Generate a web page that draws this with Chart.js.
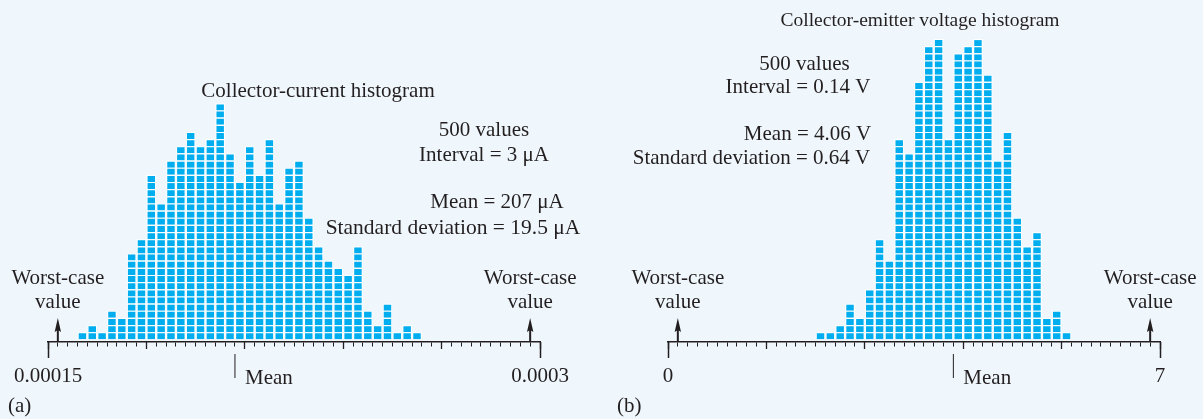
<!DOCTYPE html>
<html><head><meta charset="utf-8">
<script src="https://cdn.jsdelivr.net/npm/chart.js@4.4.1/dist/chart.umd.min.js"></script>
<style>
html,body{margin:0;padding:0;background:#eff7fd;width:1203px;height:419px;overflow:hidden}
#wa{position:absolute;left:0;top:0;width:600px;height:419px}
#wb{position:absolute;left:600px;top:0;width:603px;height:419px}
</style></head><body>
<div id="wa"><canvas id="ca" width="600" height="419"></canvas></div>
<div id="wb"><canvas id="cb" width="603" height="419"></canvas></div>
<script>
// ---------------- data ----------------
// (a) collector current, bin lower edges in microamps
const binsA = [159,162,165,168,171,174,177,180,183,186,189,192,195,198,201,204,207,210,213,216,219,222,225,228,231,234,237,240,243,246,249,252,255,258,261];
const countsA = [1,2,1,4,3,12,14,23,19,25,27,29,27,28,33,26,22,27,23,28,19,24,25,17,13,11,10,9,13,4,2,5,1,2,1];
const intervalA = 3;            // µA
const rangeA = [150, 300];      // µA
const meanA = 207;              // µA
const worstA = [153, 297];      // µA
const tickLabelsA = ['0.00015', '0.0003'];

// (b) collector-emitter voltage, bin lower edges in volts
const binsB = [2.10,2.24,2.38,2.52,2.66,2.80,2.94,3.08,3.22,3.36,3.50,3.64,3.78,3.92,4.06,4.20,4.34,4.48,4.62,4.76,4.90,5.04,5.18,5.32,5.46,5.60];
const countsB = [1,1,2,5,3,7,14,11,28,26,36,41,42,28,40,41,42,37,25,29,17,13,15,3,4,1];
const intervalB = 0.14;         // V
const rangeB = [0, 7];          // V
const meanB = 4.06;             // V
const worstB = [0.14, 6.86];    // V
const tickLabelsB = ['0', '7'];

const textsA = [
  {t:'Collector-current histogram', x:318, y:97, a:'center'},
  {t:'500 values', x:484, y:136, a:'center'},
  {t:'Interval = 3 μA', x:484, y:161, a:'center'},
  {t:'Mean = 207 μA', x:497, y:208, a:'center'},
  {t:'Standard deviation = 19.5 μA', x:453, y:234, a:'center', s:21.5},
  {t:'(a)', x:8, y:412, a:'left'}
];
const textsB = [
  {t:'Collector-emitter voltage histogram', x:320, y:26, a:'center', s:19.5},
  {t:'500 values', x:204.5, y:70, a:'center'},
  {t:'Interval = 0.14 V', x:198, y:93, a:'center'},
  {t:'Mean = 4.06 V', x:207.5, y:140, a:'center'},
  {t:'Standard deviation = 0.64 V', x:151.5, y:164, a:'center'},
  {t:'(b)', x:17, y:412, a:'left'}
];

// ---------------- style ----------------
const INK = '#231f20';
const CYAN = '#00aeef';
const FONT_FAMILY = "'Liberation Serif', 'Times New Roman', serif";
const FONT_SIZE = 21;
const Y_MIN = -0.38, Y_MAX = 44.65;

const annotPlugin = {
  id: 'annot',
  afterDraw(chart, args, o) {
    const ctx = chart.ctx;
    const xs = chart.scales.x, ys = chart.scales.y;
    const axisY = ys.getPixelForValue(Y_MIN);
    ctx.save();
    ctx.fillStyle = INK; ctx.strokeStyle = INK;
    ctx.font = FONT_SIZE + 'px ' + FONT_FAMILY;
    ctx.textBaseline = 'alphabetic';
    // worst-case arrows + labels
    o.worst.forEach(v => {
      const px = xs.getPixelForValue(v * o.k);
      ctx.lineWidth = 2;
      ctx.beginPath(); ctx.moveTo(px, axisY); ctx.lineTo(px, axisY - 14); ctx.stroke();
      ctx.beginPath(); ctx.moveTo(px, axisY - 24); ctx.lineTo(px - 3.2, axisY - 10); ctx.lineTo(px, axisY - 12); ctx.lineTo(px + 3.2, axisY - 10); ctx.closePath(); ctx.fill();
      ctx.textAlign = 'center';
      ctx.fillText('Worst-case', px, 283.5);
      ctx.fillText('value', px, 307.5);
    });
    // mean marker
    const mx = xs.getPixelForValue(o.mean * o.k);
    ctx.lineWidth = 1;
    ctx.beginPath(); ctx.moveTo(mx, axisY + 12); ctx.lineTo(mx, axisY + 36); ctx.stroke();
    ctx.textAlign = 'left';
    ctx.fillText('Mean', mx + 10, 384);
    // free texts
    o.texts.forEach(tx => {
      ctx.font = (tx.s || FONT_SIZE) + 'px ' + FONT_FAMILY;
      ctx.textAlign = tx.a; ctx.fillText(tx.t, tx.x, tx.y);
    });
    ctx.restore();
  }
};

function makeChart(id, bins, counts, interval, range, k, mean, worst, tickLabels, texts, padL, padR) {
  const lo = range[0] * k, hi = range[1] * k;
  const step = Math.round(interval * k);
  const minor = [], major = [];
  for (let v = Math.round(lo); v <= Math.round(hi) + 1e-9; v += step) minor.push(v);
  for (let v = Math.round(lo); v <= Math.round(hi) + 1e-9; v += step * 10) major.push(v);
  const maxC = Math.max(...counts);
  const datasets = [];
  for (let lev = 1; lev <= maxC; lev++) {
    const data = [];
    bins.forEach((b, i) => {
      if (counts[i] >= lev) data.push({x: Math.round(b * k) + step / 2, y: 1});
    });
    datasets.push({
      data, xAxisID: 'x', yAxisID: 'y', stack: 's',
      backgroundColor: CYAN, borderColor: '#ffffff',
      borderWidth: {top: 1.15, left: 1.2, right: 1.2, bottom: 0},
      borderSkipped: false, inflateAmount: 0,
      barPercentage: 1, categoryPercentage: 1
    });
  }
  const axisBase = (tl, tw) => ({
    type: 'linear', min: lo, max: hi, offset: false, stacked: true,
    position: {y: Y_MIN},
    grid: {display: true, drawOnChartArea: false, drawTicks: true, tickLength: tl,
           tickColor: INK, tickWidth: tw, color: INK, offset: false},
    border: {display: false},
    ticks: {display: false}
  });
  const xMinor = axisBase(4, 1);
  xMinor.afterBuildTicks = s => { s.ticks = minor.map(v => ({value: v})); };
  xMinor.border = {display: true, color: INK, width: 1.5};
  const xMajor = axisBase(7, 1.3);
  xMajor.afterBuildTicks = s => { s.ticks = major.map(v => ({value: v})); };
  const xEnd = axisBase(16, 1.5);
  xEnd.afterBuildTicks = s => { s.ticks = [{value: lo}, {value: hi}]; };
  xEnd.ticks = {display: true, autoSkip: false, maxRotation: 0, minRotation: 0,
    padding: 6.3, color: INK, font: {family: FONT_FAMILY, size: FONT_SIZE},
    callback: (v, i) => tickLabels[i]};
  return new Chart(document.getElementById(id), {
    type: 'bar',
    data: {datasets},
    options: {
      responsive: false, animation: false, events: [],
      layout: {padding: {left: padL, right: padR, top: 20, bottom: 77}},
      plugins: {legend: {display: false}, tooltip: {enabled: false}, title: {display: false},
        annot: {k, mean, worst, texts}},
      scales: {
        x: xMinor, xMajor: xMajor, xEnd: xEnd,
        y: {type: 'linear', min: Y_MIN, max: Y_MAX, stacked: true, display: false}
      }
    },
    plugins: [annotPlugin]
  });
}

makeChart('ca', binsA, countsA, intervalA, rangeA, 1, meanA, worstA, tickLabelsA, textsA, 48, 60);
makeChart('cb', binsB, countsB, intervalB, rangeB, 1000, meanB, worstB, tickLabelsB, textsB, 68, 43);
</script>
</body></html>
